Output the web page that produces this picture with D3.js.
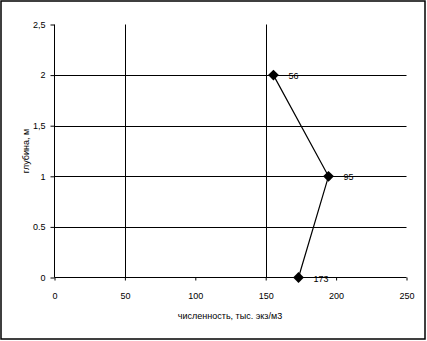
<!DOCTYPE html>
<html><head><meta charset="utf-8">
<script src="https://cdn.jsdelivr.net/npm/d3@7"></script>
<style>body{margin:0;background:#fff}svg{display:block}text{font-family:"Liberation Sans",Arial,sans-serif;fill:#000}</style>
</head><body><svg id="c" width="427" height="341"></svg>
<script>
const depths = [2, 1, 0];
const counts = [155.5, 194.6, 173.3];
const pointLabels = ["56", "95", "173"];
const xTicks = [0, 50, 100, 150, 200, 250];
const yTicks = [0, 0.5, 1, 1.5, 2, 2.5];
const yTickLabels = ["0", "0.5", "1", "1,5", "2", "2,5"];
const xGrid = [50, 150];
const yGrid = [0.5, 1, 1.5, 2];
const xTitle = "численность, тыс. экз/м3";
const yTitle = "глубина, м";

const svg = d3.select("#c");
svg.append("rect").attr("x",1).attr("y",1).attr("width",424).attr("height",338)
  .attr("fill","#fff").attr("stroke","#000").attr("stroke-width",1.5);

const x = d3.scaleLinear().domain([0,250]).range([54.5,406.5]);
const y = d3.scaleLinear().domain([0,2.5]).range([277.5,24.5]);

const g = svg.append("g");
g.selectAll(".vg").data(xGrid).join("line")
  .attr("x1",d=>Math.round(x(d))+0.5).attr("x2",d=>Math.round(x(d))+0.5)
  .attr("y1",y(2.5)).attr("y2",y(0)).attr("stroke","#000");
g.selectAll(".hg").data(yGrid).join("line")
  .attr("x1",x(0)).attr("x2",x(250))
  .attr("y1",d=>Math.round(y(d))+0.5).attr("y2",d=>Math.round(y(d))+0.5).attr("stroke","#000");

const xAxis = d3.axisBottom(x).tickValues(xTicks).tickSize(3).tickPadding(12).tickFormat(d3.format("d"));
const xa = svg.append("g").attr("transform",`translate(0,${y(0)})`).call(xAxis);
xa.select(".domain").attr("d",`M${x(0)},0H${x(250)}`);
xa.selectAll("text").attr("font-size",9).attr("font-family","Liberation Sans, Arial, sans-serif");

const yAxis = d3.axisLeft(y).tickValues(yTicks).tickSize(4).tickPadding(5).tickFormat((d,i)=>yTickLabels[i]);
const ya = svg.append("g").attr("transform",`translate(${x(0)},0)`).call(yAxis);
ya.select(".domain").attr("d",`M0,${y(2.5)}V${y(0)}`);
ya.selectAll("text").attr("font-size",9).attr("font-family","Liberation Sans, Arial, sans-serif");

const pts = depths.map((d,i)=>({d, c:counts[i], l:pointLabels[i]}));
svg.append("path").datum(pts)
  .attr("d", d3.line().x(p=>x(p.c)).y(p=>y(p.d)))
  .attr("fill","none").attr("stroke","#000").attr("stroke-width",1.2);
svg.selectAll(".m").data(pts).join("path")
  .attr("d", d3.symbol(d3.symbolDiamond2 || d3.symbolDiamond, 75))
  .attr("transform", p=>`translate(${x(p.c)},${y(p.d)})`)
  .attr("fill","#000");
svg.selectAll(".pl").data(pts).join("text")
  .attr("x", p=>x(p.c)+15).attr("y", p=>y(p.d)+4)
  .attr("font-size",9).text(p=>p.l);

svg.append("text").attr("x",230).attr("y",319).attr("text-anchor","middle")
  .attr("font-size",9).text(xTitle);
svg.append("text").attr("transform","translate(29,151) rotate(-90)")
  .attr("text-anchor","middle").attr("font-size",9).text(yTitle);
</script></body></html>
